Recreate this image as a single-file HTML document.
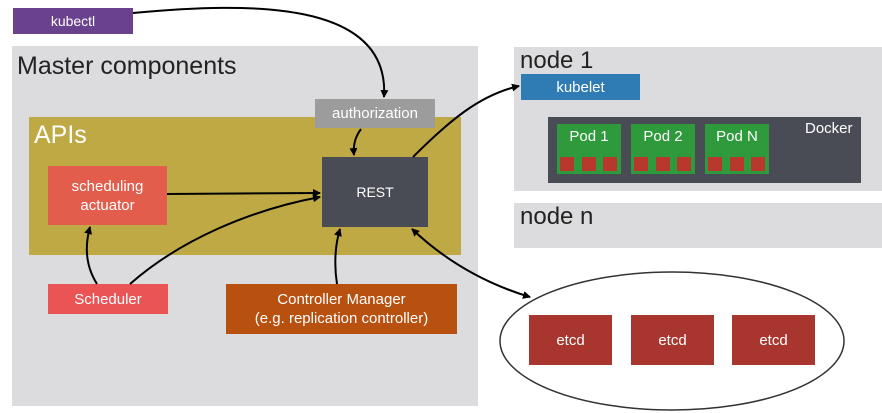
<!DOCTYPE html>
<html><head><style>
body{margin:0;width:882px;height:413px;background:#fff;position:relative;overflow:hidden;font-family:"Liberation Sans",sans-serif}
.b{position:absolute;box-sizing:border-box;display:flex;align-items:center;justify-content:center;text-align:center;color:#fff;font-size:14px;line-height:17px}
.t{position:absolute;color:#222}
</style></head><body>
<div class="b" style="left:13px;top:8px;width:120px;height:26px;background:#69418c">kubectl</div>
<div class="b" style="left:12px;top:46px;width:466px;height:360px;background:#dcdcde"></div>
<div class="t" style="left:17px;top:52px;font-size:25px">Master components</div>
<div class="b" style="left:29px;top:117px;width:432px;height:138px;background:#bfa945"></div>
<div class="t" style="left:34px;top:121px;font-size:25px;color:#fff">APIs</div>
<div class="b" style="left:315px;top:99px;width:120px;height:29px;background:#9c9c9c;font-size:15px">authorization</div>
<div class="b" style="left:322px;top:157px;width:106px;height:70px;background:#494c54">REST</div>
<div class="b" style="left:48px;top:166px;width:119px;height:59px;background:#e35d4c;font-size:15px;line-height:19px">scheduling<br>actuator</div>
<div class="b" style="left:48px;top:284px;width:120px;height:30px;background:#ea5455;font-size:15px">Scheduler</div>
<div class="b" style="left:226px;top:284px;width:231px;height:50px;background:#b8500f;font-size:15px;line-height:19px">Controller Manager<br>(e.g. replication controller)</div>
<div class="b" style="left:514px;top:47px;width:368px;height:144px;background:#dcdcde"></div>
<div class="t" style="left:520px;top:47px;font-size:24px">node 1</div>
<div class="b" style="left:521px;top:74px;width:119px;height:26px;background:#2f7bb3;font-size:15px">kubelet</div>
<div class="b" style="left:548px;top:117px;width:313px;height:66px;background:#494c54"></div>
<div class="t" style="left:805px;top:120px;font-size:15px;color:#fff">Docker</div>
<div class="b" style="left:557px;top:124px;width:64px;height:50px;background:#2e9a3c;align-items:flex-start;padding-top:4px;font-size:15px">Pod 1</div>
<div class="b" style="left:631px;top:124px;width:64px;height:50px;background:#2e9a3c;align-items:flex-start;padding-top:4px;font-size:15px">Pod 2</div>
<div class="b" style="left:705px;top:124px;width:64px;height:50px;background:#2e9a3c;align-items:flex-start;padding-top:4px;font-size:15px">Pod N</div>
<div class="b" style="left:514px;top:203px;width:368px;height:45px;background:#dcdcde"></div>
<div class="t" style="left:520px;top:203px;font-size:24px">node n</div>
<svg style="position:absolute;left:0;top:0" width="882" height="413">
<defs><marker id="a" markerWidth="8" markerHeight="8" refX="7" refY="4" orient="auto" markerUnits="userSpaceOnUse"><path d="M0,0L8,4L0,8z" fill="#000"/></marker>
<marker id="s" markerWidth="8" markerHeight="8" refX="1" refY="4" orient="auto" markerUnits="userSpaceOnUse"><path d="M8,0L0,4L8,8z" fill="#000"/></marker></defs>
<g fill="#b8382e">
<rect x="560" y="157" width="14" height="14"/><rect x="582" y="157" width="14" height="14"/><rect x="603" y="157" width="14" height="14"/>
<rect x="634" y="157" width="14" height="14"/><rect x="656" y="157" width="14" height="14"/><rect x="677" y="157" width="14" height="14"/>
<rect x="708" y="157" width="14" height="14"/><rect x="730" y="157" width="14" height="14"/><rect x="751" y="157" width="14" height="14"/>
</g>
<ellipse cx="672" cy="341" rx="172" ry="69" fill="#fff" stroke="#333" stroke-width="1.5"/>
<g fill="none" stroke="#000" stroke-width="2">
<path d="M133,13 C250,2 390,0 384,97" marker-end="url(#a)"/>
<path d="M361,129 C356,136 353,143 354,155" marker-end="url(#a)"/>
<path d="M413,157 C450,120 480,95 519,86" marker-end="url(#a)"/>
<path d="M167,194 L320,193" marker-end="url(#a)"/>
<path d="M130,284 C180,240 250,210 320,197" marker-end="url(#a)"/>
<path d="M97,284 C85,265 85,245 90,227" marker-end="url(#a)"/>
<path d="M337,284 C334,265 335,245 340,229" marker-end="url(#a)"/>
<path d="M412,229 C450,265 490,285 530,297" marker-start="url(#s)" marker-end="url(#a)"/>
</g>
</svg>
<div class="b" style="left:529px;top:315px;width:83px;height:50px;background:#a8362f;font-size:15px">etcd</div>
<div class="b" style="left:631px;top:315px;width:83px;height:50px;background:#a8362f;font-size:15px">etcd</div>
<div class="b" style="left:732px;top:315px;width:83px;height:50px;background:#a8362f;font-size:15px">etcd</div>
</body></html>
